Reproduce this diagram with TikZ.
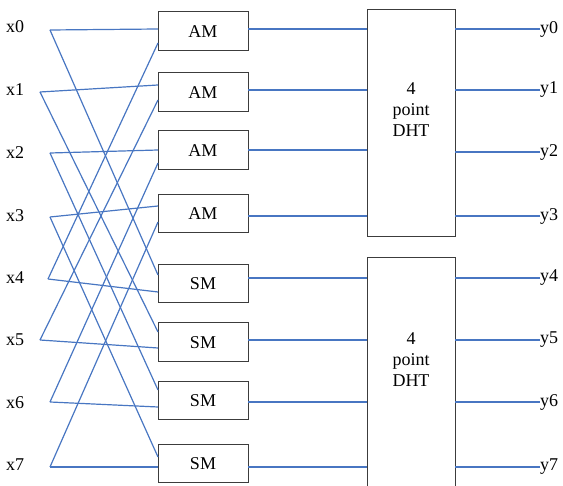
\documentclass[tikz,border=0pt]{standalone}
\usepackage{fontspec}
\setmainfont{Liberation Serif}
\definecolor{wireblue}{RGB}{72,118,194}
\definecolor{boxgray}{RGB}{60,60,60}
\begin{document}
\begin{tikzpicture}[x=1pt,y=-1pt,
  wire/.style={draw=wireblue, line width=1.2pt},
  blk/.style={draw=boxgray, line width=1pt, fill=white, inner sep=0pt,
    minimum width=90pt, font=\fontsize{18}{21}\selectfont},
  dht/.style={draw=boxgray, line width=1pt, inner sep=0pt, minimum width=88pt},
  lbl/.style={font=\fontsize{18}{21}\selectfont, inner sep=0pt},
  dhttext/.style={font=\fontsize{18}{21}\selectfont, align=center, inner sep=0pt}]
\useasboundingbox (0,0) rectangle (563,486);

% input labels and their fan-out points
\foreach \i/\ly/\vx/\vy in {0/27/50/30, 1/90/40/92, 2/153/50/153, 3/216/50/217,
                            4/278/48/279, 5/340/40/340, 6/403/50/402, 7/465/50/467}{
  \node[lbl, anchor=west] (x\i) at (6,\ly) {x\i};
  \coordinate (v\i) at (\vx,\vy);
}

% adder / subtractor blocks
\node[blk, minimum height=39pt] (am1) at (203,31.5) {AM};
\node[blk, minimum height=39pt] (am2) at (203,92.5) {AM};
\node[blk, minimum height=39pt] (am3) at (203,150.5) {AM};
\node[blk, minimum height=38pt] (am4) at (203,214) {AM};
\node[blk, minimum height=38pt] (sm1) at (203,284) {SM};
\node[blk, minimum height=39pt] (sm2) at (203,342.5) {SM};
\node[blk, minimum height=38pt] (sm3) at (203,401) {SM};
\node[blk, minimum height=38pt] (sm4) at (203,464) {SM};

% block input ports (upper / lower)
\foreach \b/\ya/\yb in {am1/29/43, am2/85/100, am3/150/163, am4/206/222,
                        sm1/275/292, sm2/332/348, sm3/390/407, sm4/457/467}{
  \coordinate (\b a) at (158,\ya);
  \coordinate (\b b) at (158,\yb);
}

% 4-point DHT blocks
\node[dht, minimum height=227pt] (dht1) at (411,123.5) {};
\node[dht, minimum height=242pt] (dht2) at (411,379) {};
\node[dhttext] (t1) at (411,110) {4\\point\\DHT};
\node[dhttext] (t2) at (411,360) {4\\point\\DHT};

% butterfly wiring
\draw[wire] (v0) -- (am1a);  \draw[wire] (v0) -- (sm1a);
\draw[wire] (v1) -- (am2a);  \draw[wire] (v1) -- (sm2a);
\draw[wire] (v2) -- (am3a);  \draw[wire] (v2) -- (sm3a);
\draw[wire] (v3) -- (am4a);  \draw[wire] (v3) -- (sm4a);
\draw[wire] (v4) -- (am1b);  \draw[wire] (v4) -- (sm1b);
\draw[wire] (v5) -- (am2b);  \draw[wire] (v5) -- (sm2b);
\draw[wire] (v6) -- (am3b);  \draw[wire] (v6) -- (sm3b);
\draw[wire] (v7) -- (am4b);  \draw[wire] (v7) -- (sm4b);

% block outputs into the DHT stages
\foreach \b/\y in {am1/29, am2/90, am3/150, am4/216, sm1/278, sm2/340, sm3/402, sm4/467}{
  \coordinate (\b o) at (248,\y);
  \coordinate (\b d) at (367,\y);
  \draw[wire] (\b o) -- (\b d);
}

% outputs
\foreach \i/\y/\d in {0/29/dht1, 1/90/dht1, 2/152/dht1, 3/216/dht1,
                      4/278/dht2, 5/340/dht2, 6/402/dht2, 7/467/dht2}{
  \node[lbl, anchor=west] (y\i) at (540,\y) {y\i};
  \coordinate (o\i) at (455,\y);
  \draw[wire] (o\i) -- (y\i.west);
}
\end{tikzpicture}
\end{document}
